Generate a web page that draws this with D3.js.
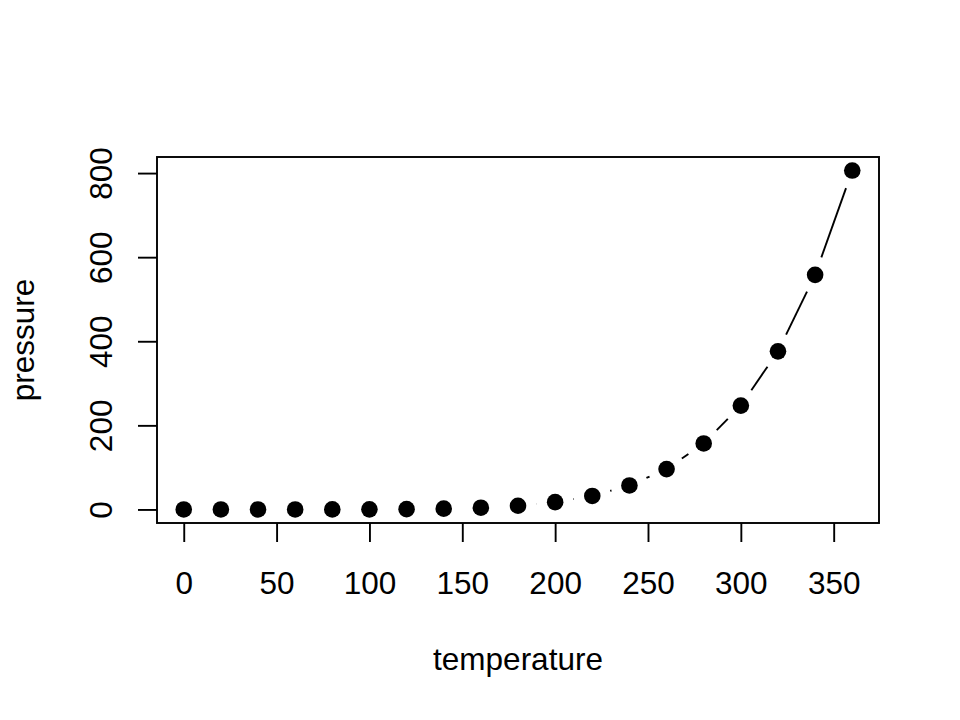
<!DOCTYPE html>
<html>
<head>
<meta charset="utf-8">
<script src="https://cdn.jsdelivr.net/npm/d3@7"></script>
<style>
  body { margin: 0; background: #fff; }
  text { font-family: "Liberation Sans", Arial, sans-serif; fill: #000; }
</style>
</head>
<body>
<svg id="chart"></svg>
<script>
// pressure dataset
const temperature = [0, 20, 40, 60, 80, 100, 120, 140, 160, 180, 200, 220, 240, 260, 280, 300, 320, 340, 360];
const pressure = [0.0002, 0.0012, 0.006, 0.03, 0.09, 0.27, 0.75, 1.85, 4.2, 8.8, 17.3, 32.1, 57, 96, 157, 247, 376, 558, 806];
const xTicks = [0, 50, 100, 150, 200, 250, 300, 350];
const yTicks = [0, 200, 400, 600, 800];

const width = 960, height = 720;
const plotLeft = 157, plotRight = 879, plotTop = 157, plotBottom = 523;
const fontSize = 31.5;
const gap = 18.6;      // line gap around points (type = "b")
const tick = 19;
const lw = 1.9;

const svg = d3.select("#chart")
    .attr("width", width)
    .attr("height", height);

// R style 4% axis padding
const xPad = 0.04 * (d3.max(temperature) - d3.min(temperature));
const yPad = 0.04 * (d3.max(pressure) - d3.min(pressure));

const x = d3.scaleLinear()
    .domain([d3.min(temperature) - xPad, d3.max(temperature) + xPad])
    .range([plotLeft, plotRight]);
const y = d3.scaleLinear()
    .domain([d3.min(pressure) - yPad, d3.max(pressure) + yPad])
    .range([plotBottom, plotTop]);

const pts = temperature.map((t, i) => ({ px: x(t), py: y(pressure[i]) }));

// Line segments with gaps around each point
const segs = [];
for (let i = 1; i < pts.length; i++) {
    const a = pts[i - 1], b = pts[i];
    const dx = b.px - a.px, dy = b.py - a.py;
    const dist = Math.hypot(dx, dy);
    if (dist > 2 * gap) {
        const f = gap / dist;
        segs.push({
            x1: a.px + dx * f, y1: a.py + dy * f,
            x2: b.px - dx * f, y2: b.py - dy * f
        });
    }
}

svg.append("g")
    .selectAll("line")
    .data(segs)
    .enter()
    .append("line")
    .attr("x1", d => d.x1)
    .attr("y1", d => d.y1)
    .attr("x2", d => d.x2)
    .attr("y2", d => d.y2)
    .attr("stroke", "#000")
    .attr("stroke-width", lw);

svg.append("g")
    .selectAll("circle")
    .data(pts)
    .enter()
    .append("circle")
    .attr("cx", d => d.px)
    .attr("cy", d => d.py)
    .attr("r", 8.3)
    .attr("fill", "#000");

// Box
svg.append("rect")
    .attr("x", plotLeft)
    .attr("y", plotTop)
    .attr("width", plotRight - plotLeft)
    .attr("height", plotBottom - plotTop)
    .attr("fill", "none")
    .attr("stroke", "#000")
    .attr("stroke-width", lw);

// X axis
svg.append("g")
    .attr("transform", `translate(0,${plotBottom})`)
    .call(d3.axisBottom(x).tickValues(xTicks).tickSize(tick).tickFormat(d3.format("d")))
    .call(g => g.select(".domain").remove())
    .call(g => g.selectAll(".tick line").attr("stroke-width", lw))
    .call(g => g.selectAll(".tick text")
        .attr("y", 71)
        .attr("dy", null)
        .style("font-size", fontSize + "px")
        .style("font-family", "'Liberation Sans', Arial, sans-serif"));

// Y axis
svg.append("g")
    .attr("transform", `translate(${plotLeft},0)`)
    .call(d3.axisLeft(y).tickValues(yTicks).tickSize(tick).tickFormat(d3.format("d")))
    .call(g => g.select(".domain").remove())
    .call(g => g.selectAll(".tick line").attr("stroke-width", lw))
    .call(g => g.selectAll(".tick text")
        .attr("x", 0)
        .attr("y", -45)
        .attr("dy", null)
        .attr("transform", "rotate(-90)")
        .attr("text-anchor", "middle")
        .style("font-size", fontSize + "px")
        .style("font-family", "'Liberation Sans', Arial, sans-serif"));

// Axis titles
svg.append("text")
    .attr("x", (plotLeft + plotRight) / 2)
    .attr("y", 670)
    .attr("text-anchor", "middle")
    .style("font-size", fontSize + "px")
    .text("temperature");

svg.append("text")
    .attr("transform", `translate(34,${(plotTop + plotBottom) / 2}) rotate(-90)`)
    .attr("text-anchor", "middle")
    .style("font-size", fontSize + "px")
    .text("pressure");
</script>
</body>
</html>
